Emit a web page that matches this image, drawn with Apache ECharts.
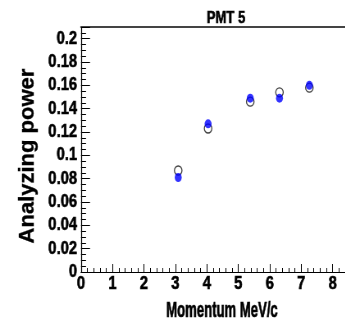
<!DOCTYPE html>
<html>
<head>
<meta charset="utf-8">
<script src="https://cdn.jsdelivr.net/npm/echarts@6/dist/echarts.min.js"></script>
<style>
  html, body { margin: 0; padding: 0; background: #fff; overflow: hidden; }
  #frame { width: 345px; height: 323px; overflow: hidden; position: relative; }
  /* The chart is laid out 1/0.82 wider and squeezed back, which turns the
     sans-serif bold into its narrow cut, as in the ROOT-style original. */
  #chart { width: 420.7px; height: 323px; transform: scaleX(0.82); transform-origin: 0 0; }
</style>
</head>
<body>
<div id="frame"><div id="chart"></div></div>
<script>
// Momentum values (MeV/c) of the measured points
const momentum = [3.09, 4.04, 5.38, 6.31, 7.26];
// Analyzing power, open-circle series
const powerOpen = [0.087, 0.123, 0.146, 0.154, 0.158];
// Analyzing power, filled blue series
const powerFilled = [0.081, 0.127, 0.149, 0.149, 0.160];

const chartTitle = 'PMT 5';
const xTitle = 'Momentum MeV/c';
const yTitle = 'Analyzing power';

const SX = 0.82;               // horizontal squeeze applied by CSS
const px = v => v / SX;        // screen x-distance -> layout x-distance
const font = "Liberation Sans";

const pairs = (xs, ys) => xs.map((x, i) => [x, ys[i]]);

// heavy black text, slightly outlined to keep its weight after the squeeze
const heavy = (size, w) => ({
  fill: '#000', fontFamily: font, fontWeight: 'bold', fontSize: size,
  stroke: '#000', lineWidth: w
});

const chart = echarts.init(document.getElementById('chart'), null, { renderer: 'canvas' });

chart.setOption({
  animation: false,
  backgroundColor: '#fff',
  grid: { left: px(81), top: 27, right: 0, bottom: 51, containLabel: false },
  xAxis: [{
    type: 'value',
    min: 0, max: 8.4, interval: 1,
    axisLine: { show: true, onZero: false, lineStyle: { color: '#000', width: 1 } },
    axisTick: { show: true, inside: true, length: 8, lineStyle: { color: '#000' } },
    minorTick: { show: true, splitNumber: 5, length: 4, lineStyle: { color: '#000' } },
    splitLine: { show: false },
    axisLabel: {
      showMaxLabel: false, showMinLabel: true, margin: 3,
      color: '#000', fontFamily: font, fontWeight: 'bold', fontSize: 18,
      textBorderColor: '#000', textBorderWidth: 0.6
    }
  }, {
    type: 'value', position: 'top',
    min: 0, max: 8.4,
    axisLine: { show: true, onZero: false, lineStyle: { color: '#444', width: 2 } },
    axisTick: { show: false }, axisLabel: { show: false }, splitLine: { show: false }
  }],
  yAxis: {
    type: 'value',
    min: 0, max: 0.21, interval: 0.02,
    axisLine: { show: true, onZero: false, lineStyle: { color: '#000', width: 1.2 } },
    axisTick: { show: true, inside: true, length: px(9), lineStyle: { color: '#000' } },
    minorTick: { show: true, splitNumber: 4, length: px(5), lineStyle: { color: '#000' } },
    splitLine: { show: false },
    axisLabel: {
      showMaxLabel: false, showMinLabel: true, margin: px(4),
      color: '#000', fontFamily: font, fontWeight: 'bold', fontSize: 18,
      textBorderColor: '#000', textBorderWidth: 0.6,
      formatter: v => String(+v.toFixed(3))
    }
  },
  series: [{
    name: 'open',
    type: 'scatter',
    data: pairs(momentum, powerOpen),
    symbol: 'circle',
    symbolSize: [px(7.5), 9],
    itemStyle: { color: 'rgba(255,255,255,0)', borderColor: '#111', borderWidth: 1.3 },
    z: 2
  }, {
    name: 'filled',
    type: 'scatter',
    data: pairs(momentum, powerFilled),
    symbol: 'circle',
    symbolSize: [px(7), 9],
    itemStyle: { color: '#0000ff' },
    z: 3
  }],
  graphic: [{
    type: 'text',
    x: px(226), y: 27,
    style: Object.assign({ text: chartTitle, align: 'center', verticalAlign: 'bottom' }, heavy(16, 0.6))
  }, {
    type: 'text',
    x: px(222), y: 322,
    scaleY: 1.4,
    style: Object.assign({ text: xTitle, align: 'center', verticalAlign: 'bottom' }, heavy(16, 0.5))
  }, {
    type: 'text',
    x: px(28), y: 156,
    rotation: Math.PI / 2,
    scaleX: 0.88,
    style: Object.assign({ text: yTitle, align: 'center', verticalAlign: 'middle' }, heavy(25, 0.4))
  }]
});
</script>
</body>
</html>
